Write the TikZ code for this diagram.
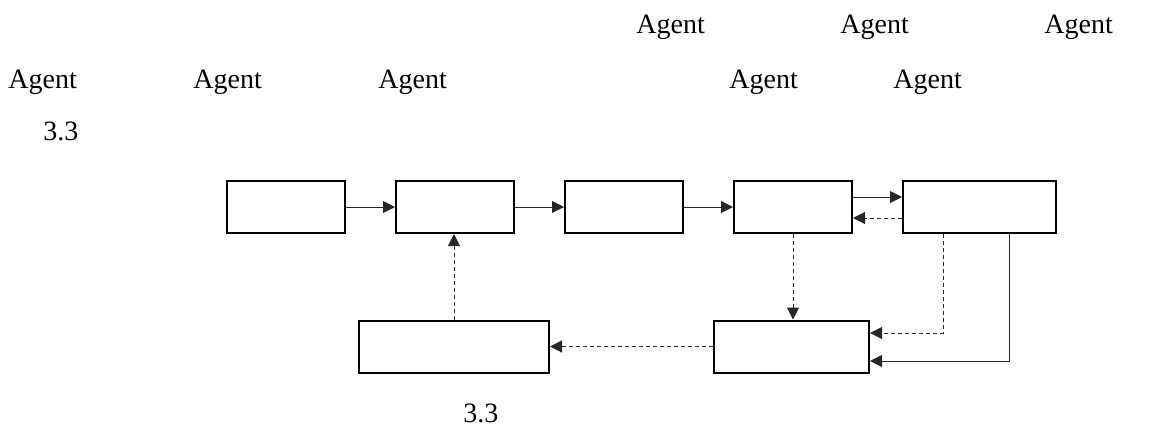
\documentclass[tikz,border=0pt]{standalone}
\usepackage{fontspec}
\setmainfont{Liberation Serif}
\usetikzlibrary{positioning,arrows.meta}

\begin{document}
\begin{tikzpicture}[x=0.5pt, y=-0.5pt, >={Triangle[length=6pt,width=6pt]},
    box/.style={draw=black, line width=1pt, minimum width=59pt, minimum height=26pt, inner sep=0pt},
    word/.style={inner sep=0pt, anchor=base west, font=\fontsize{14pt}{16pt}\selectfont},
    link/.style={->, line width=0.5pt, draw=black!85},
    dlink/.style={link, dash pattern=on 2pt off 1.5pt}]
        \useasboundingbox (0,0) rectangle (1175,430);

        % text lines
        \node[word](agentA) at (636,33){Agent};
        \node[word](agentB) at (840,33){Agent};
        \node[word](agentC) at (1044,33){Agent};
        \node[word](agentD) at (8,88){Agent};
        \node[word](agentE) at (193,88){Agent};
        \node[word](agentF) at (378,88){Agent};
        \node[word](agentG) at (729,88){Agent};
        \node[word](agentH) at (893,88){Agent};
        \node[word](figref) at (43,140){3.3};
        \node[word](caption) at (463,422){3.3};

        % boxes
        \node[box](eins) at (286,207){};
        \node[box](zwei) [right=24.5pt of eins]{};
        \node[box](drei) [right=24.5pt of zwei]{};
        \node[box](vier) [right=24.5pt of drei]{};
        \node[box, minimum width=76.5pt](fuenf) [right=24.5pt of vier]{};
        \node[box, minimum width=95pt](sechs) at (454,346.5){};
        \node[box, minimum width=77.5pt](sieben) at (791.5,346.5){};

        \draw[link] (eins) -- (zwei);
        \draw[link] (zwei) -- (drei);
        \draw[link] (drei) -- (vier);
        \draw[link] ([yshift=5pt]vier.east) -- ([yshift=5pt]fuenf.west);
        \draw[dlink] ([yshift=-5.5pt]fuenf.west) -- ([yshift=-5.5pt]vier.east);
        \draw[dlink] (vier.south) -- (vier.south |- sieben.north);
        \draw[dlink] ([xshift=-18.25pt]fuenf.south) |- ([yshift=6.75pt]sieben.east);
        \draw[link] ([xshift=14.75pt]fuenf.south) |- ([yshift=-7.25pt]sieben.east);
        \draw[dlink] (sieben) -- (sechs);
        \draw[dlink] (sechs.north) -- (sechs.north |- zwei.south);
      \end{tikzpicture}
\end{document}
